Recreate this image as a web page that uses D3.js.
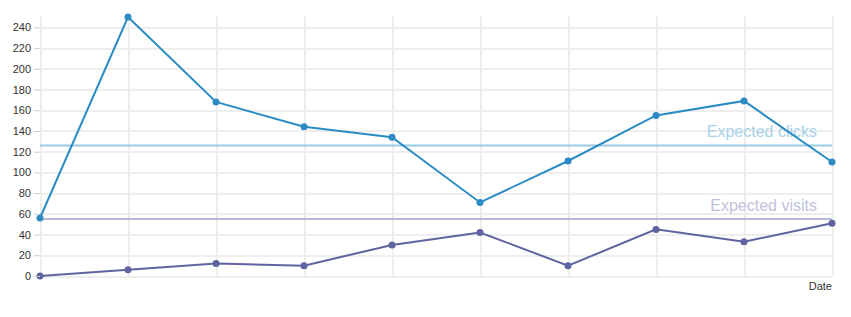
<!DOCTYPE html>
<meta charset="utf-8">
<style>
    body { margin: 0; background: #fff; }
    svg { font-family: "Liberation Sans", Arial, sans-serif; }
    .grid line { stroke: #eee; stroke-width: 2px; shape-rendering: crispEdges; }
    .grid path { stroke-width: 0; }
    .axis-y path { display: none; }
    .axis-y line { stroke: #ccc; }
    .axis-y text { fill: #333; font-size: 11px; }
    .clicksLine { fill: none; stroke: #2b8cc4; stroke-width: 2px; }
    .visitsLine { fill: none; stroke: #5f64a0; stroke-width: 2px; }
</style>
<body>
<script src="https://d3js.org/d3.v7.min.js"></script>
<script>

// chart data
var days = [1, 2, 3, 4, 5, 6, 7, 8, 9, 10];
var clicks = [56, 250, 168, 144, 134, 71, 111, 155, 169, 110];
var visits = [0, 6, 12, 10, 30, 42, 10, 45, 33, 51];
var yTicks = [0, 20, 40, 60, 80, 100, 120, 140, 160, 180, 200, 220, 240];
var expectedClicks = 126;
var expectedVisits = 55;

var margin = {top: 17, right: 19, bottom: 41, left: 40},
    width = 851 - margin.left - margin.right,
    height = 317 - margin.top - margin.bottom;

var x = d3.scalePoint().domain(days).range([0, width]);
var y = d3.scaleLinear().domain([0, 250]).range([height, 0]);

var svg = d3.select("body")
    .append("svg")
    .attr("width", 851)
    .attr("height", 317)
    .append("g")
    .attr("transform", "translate(" + margin.left + "," + margin.top + ")");

// horizontal gridlines
svg.append("g")
    .attr("class", "grid")
    .call(d3.axisLeft(y).tickValues(yTicks).tickSize(-width).tickFormat(""));

// vertical gridlines
svg.append("g")
    .attr("class", "grid")
    .attr("transform", "translate(0," + height + ")")
    .call(d3.axisBottom(x).tickSize(-height - 1).tickFormat(""));

// expected lines + labels
function expected(value, color, textColor, label) {
    svg.append("line")
        .attr("x1", 0).attr("x2", width)
        .attr("y1", y(value)).attr("y2", y(value))
        .attr("stroke", color)
        .attr("stroke-width", 2);
    svg.append("text")
        .attr("x", width - 15)
        .attr("y", y(value) - 8)
        .attr("text-anchor", "end")
        .attr("fill", textColor)
        .style("font-size", "16px")
        .text(label);
}
expected(expectedClicks, "#99c9e2", "#a9d1e7", "Expected clicks");
expected(expectedVisits, "#b6b8d5", "#bfc1dc", "Expected visits");

// series
function series(values, cls, color) {
    var line = d3.line()
        .x(function(d, i) { return x(days[i]); })
        .y(function(d) { return y(d); });
    svg.append("path")
        .datum(values)
        .attr("class", cls)
        .attr("d", line);
    svg.selectAll("circle." + cls)
        .data(values)
        .enter().append("circle")
        .attr("class", cls + "-pt")
        .attr("cx", function(d, i) { return x(days[i]); })
        .attr("cy", function(d) { return y(d); })
        .attr("r", 3.5)
        .attr("fill", color);
}
series(clicks, "clicksLine", "#2b8cc4");
series(visits, "visitsLine", "#5f64a0");

// y axis
svg.append("g")
    .attr("class", "axis-y")
    .call(d3.axisLeft(y).tickValues(yTicks).tickSize(6).tickPadding(3));

// x axis label
svg.append("text")
    .attr("x", width)
    .attr("y", height + 14)
    .attr("text-anchor", "end")
    .attr("fill", "#333")
    .style("font-size", "11px")
    .text("Date");

</script>
</body>
